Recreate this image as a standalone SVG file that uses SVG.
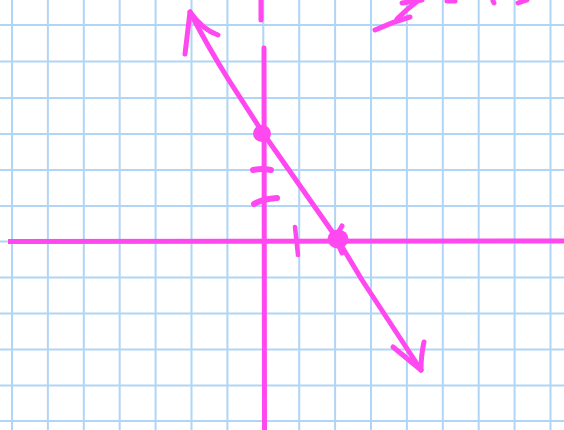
<svg xmlns="http://www.w3.org/2000/svg" width="564" height="430" viewBox="0 0 564 430">
<defs>
<style>
.grid line{stroke:#b0d5f6;stroke-width:2}
.ink{fill:none;stroke:#ff48f0;stroke-width:5;stroke-linecap:round;stroke-linejoin:round}
.dot{fill:#ff48f0}
</style>
</defs>
<rect width="564" height="430" fill="#ffffff"/>
<g id="grid" class="grid">
<line x1="12" y1="0" x2="12" y2="430"/><line x1="47.9" y1="0" x2="47.9" y2="430"/><line x1="83.8" y1="0" x2="83.8" y2="430"/><line x1="119.7" y1="0" x2="119.7" y2="430"/><line x1="155.6" y1="0" x2="155.6" y2="430"/><line x1="191.5" y1="0" x2="191.5" y2="430"/><line x1="227.4" y1="0" x2="227.4" y2="430"/><line x1="263.3" y1="0" x2="263.3" y2="430"/><line x1="299.2" y1="0" x2="299.2" y2="430"/><line x1="335.1" y1="0" x2="335.1" y2="430"/><line x1="371" y1="0" x2="371" y2="430"/><line x1="406.9" y1="0" x2="406.9" y2="430"/><line x1="442.8" y1="0" x2="442.8" y2="430"/><line x1="478.7" y1="0" x2="478.7" y2="430"/><line x1="514.6" y1="0" x2="514.6" y2="430"/><line x1="550.5" y1="0" x2="550.5" y2="430"/>
<line x1="0" y1="25" x2="564" y2="25"/><line x1="0" y1="61.5" x2="564" y2="61.5"/><line x1="0" y1="98" x2="564" y2="98"/><line x1="0" y1="134" x2="564" y2="134"/><line x1="0" y1="170" x2="564" y2="170"/><line x1="0" y1="206" x2="564" y2="206"/><line x1="0" y1="241.5" x2="564" y2="241.5"/><line x1="0" y1="277.5" x2="564" y2="277.5"/><line x1="0" y1="313.5" x2="564" y2="313.5"/><line x1="0" y1="349.5" x2="564" y2="349.5"/><line x1="0" y1="385.5" x2="564" y2="385.5"/><line x1="0" y1="421" x2="564" y2="421"/>
</g>
<g id="axes" class="ink">
<line x1="8" y1="241.5" x2="564" y2="241" stroke-linecap="butt"/>
<line x1="264" y1="48" x2="264.5" y2="430"/>
<line x1="261" y1="0" x2="261" y2="20"/>
<path d="M253,170 Q262,168 271,170" stroke-width="6"/>
<path d="M254,204 Q262,199 277,198" stroke-width="6"/>
<path d="M295,227 L298,255" stroke-width="4.5"/>
</g>
<g id="line" class="ink">
<path d="M191,14 Q208,47 230,82 L263,133 L338,240 L362,280 L421,370"/>
<path d="M190,12 L185,54"/>
<path d="M190,12 Q203,30 218,35"/>
<path d="M421,370 L393,347"/>
<path d="M421,370 Q421,355 424,342"/>
</g>
<g id="points">
<ellipse class="dot" cx="262" cy="133.5" rx="9" ry="8.5"/>
<ellipse class="dot" cx="338" cy="239" rx="10.5" ry="9.5"/>
<path class="ink" d="M339,231 L342,226 M339,246 L342,253" stroke-width="4"/>
</g>
<g id="scribble" class="ink" stroke-width="6">
<path d="M375,30 Q392,22 410,17"/>
<path d="M397,19 Q408,8 419,0"/>
<path d="M402,3 L422,0"/>
<path d="M447,1 L455,1"/>
<path d="M493,1 L494,3"/>
<path d="M518,3 L527,0"/>
</g>
</svg>
